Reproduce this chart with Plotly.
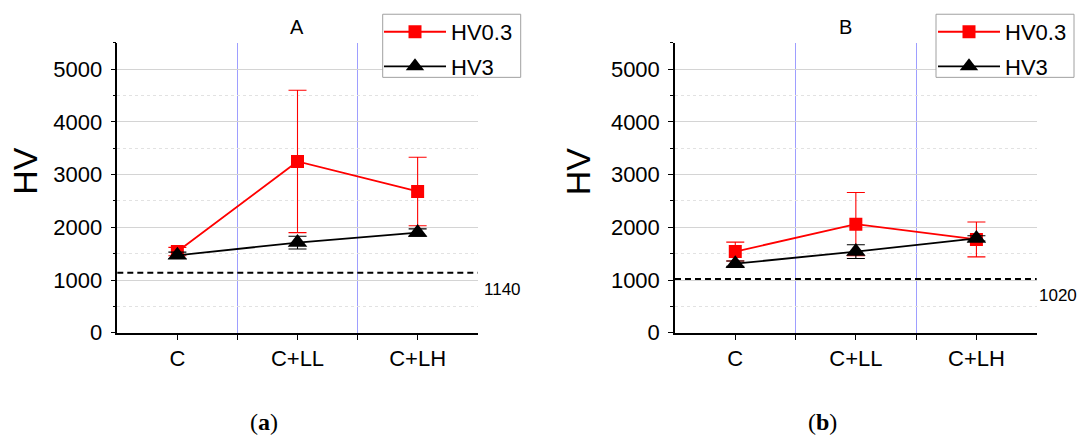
import plotly.graph_objects as go

categories = ["C", "C+LL", "C+LH"]
series_names = ["HV0.3", "HV3"]
a_hv03 = [1540, 3250, 2680]
a_hv03_err = [80, 1350, 650]
a_hv3 = [1470, 1710, 1900]
a_hv3_err = [60, 120, 70]
b_hv03 = [1540, 2060, 1770]
b_hv03_err = [180, 600, 330]
b_hv3 = [1310, 1540, 1790]
b_hv3_err = [50, 130, 50]
thresholds = [1140, 1020]
panel_titles = ["A", "B"]
captions = ["a", "b"]
y_ticks = [0, 1000, 2000, 3000, 4000, 5000]

FONT = "Liberation Sans, Arial, sans-serif"
W, H = 1080, 437          # target picture size (positions are expressed in it)
FIG_H = 448               # layout height
xpos = list(range(len(categories)))


def fy(px):  # paper fraction from a pixel row of the target picture
    return 1 - px / H


def fx(px):
    return px / W


fig = go.Figure()

panels = [
    (a_hv03, a_hv03_err, a_hv3, a_hv3_err, "x", "y", "legend"),
    (b_hv03, b_hv03_err, b_hv3, b_hv3_err, "x2", "y2", "legend2"),
]
for k, (v03, e03, v3, e3, xa, ya, lg) in enumerate(panels):
    fig.add_trace(go.Scatter(
        x=xpos, y=v03, name=series_names[0], mode="lines+markers",
        line=dict(color="#ff0000", width=1.8),
        marker=dict(symbol="square", size=13, color="#ff0000"),
        error_y=dict(type="data", array=e03, color="#ff0000", thickness=1.1, width=9),
        xaxis=xa, yaxis=ya, legend=lg, legendgroup=f"p{k}a"))
    fig.add_trace(go.Scatter(
        x=xpos, y=v3, name=series_names[1], mode="lines+markers",
        line=dict(color="#000000", width=1.8),
        marker=dict(symbol="triangle-up", size=17, color="#000000"),
        error_y=dict(type="data", array=e3, color="#000000", thickness=1.1, width=9),
        xaxis=xa, yaxis=ya, legend=lg, legendgroup=f"p{k}b"))

ydom = [fy(334.3), fy(43)]
xdoms = [[fx(117.3), fx(477.7)], [fx(675), fx(1036.7)]]


def xaxis_cfg(dom):
    return dict(
        domain=dom, range=[-0.5, 2.5], tickmode="array", tickvals=xpos, ticktext=categories,
        showline=True, linecolor="black", linewidth=1.5, ticks="outside", ticklen=5,
        tickcolor="black", tickwidth=1.2, showgrid=False, zeroline=False,
        tickfont=dict(family=FONT, size=22, color="black"), ticklabelstandoff=0,
        minor=dict(tickmode="array", tickvals=[0.5, 1.5], ticks="outside", ticklen=5,
                   tickcolor="black", showgrid=True, gridcolor="#9e9eff", gridwidth=1.3),
        fixedrange=True)


def yaxis_cfg(anchor):
    return dict(
        domain=ydom, range=[0, 5500], tickmode="array", tickvals=y_ticks, anchor=anchor,
        showline=True, linecolor="black", linewidth=1.5, ticks="outside", ticklen=5,
        tickcolor="black", tickwidth=1.2, showgrid=True, gridcolor="#d4d4d4", gridwidth=1,
        zeroline=False, tickfont=dict(family=FONT, size=22, color="black"),
        ticklabelstandoff=4,
        minor=dict(dtick=500, tick0=0, ticks="outside", ticklen=3, tickcolor="black",
                   showgrid=True, gridcolor="#e2e2e2", griddash="dot", gridwidth=1),
        fixedrange=True)


legend_common = dict(
    xanchor="left", yanchor="top", y=fy(11), bgcolor="rgba(0,0,0,0)",
    borderwidth=0, font=dict(family=FONT, size=22, color="black"),
    tracegroupgap=3, itemwidth=62)

fig.update_layout(
    width=W, height=FIG_H, autosize=False, margin=dict(l=0, r=0, t=0, b=0),
    paper_bgcolor="white", plot_bgcolor="white",
    font=dict(family=FONT, color="black"),
    xaxis=xaxis_cfg(xdoms[0]), yaxis=yaxis_cfg("x"),
    xaxis2=dict(xaxis_cfg(xdoms[1]), anchor="y2"), yaxis2=yaxis_cfg("x2"),
    legend=dict(legend_common, x=fx(379)),
    legend2=dict(legend_common, x=fx(933)),
)

# legend frames
legend_boxes = [(382.7, 520.7), (936, 1074)]
for x0, x1 in legend_boxes:
    fig.add_shape(type="rect", xref="paper", yref="paper",
                  x0=fx(x0), x1=fx(x1), y0=fy(77.7), y1=fy(14.3),
                  line=dict(color="#a0a0a0", width=1), fillcolor="white", layer="above")

hv_x = [25.5, 578]
title_x = [296.5, 845]
cap_x = [263.7, 822.7]
xrefs = ["x", "x2"]
yrefs = ["y", "y2"]
for i in range(2):
    fig.add_shape(type="line", xref=f"{xrefs[i]} domain", yref=yrefs[i],
                  x0=0, x1=1, y0=thresholds[i], y1=thresholds[i],
                  line=dict(color="black", width=2, dash="6px,4px"), layer="above")
    fig.add_annotation(xref=f"{xrefs[i]} domain", yref=yrefs[i], x=1, y=thresholds[i],
                       xanchor="left", yanchor="top", xshift=4 if i == 0 else 0,
                       yshift=-5, text=str(thresholds[i]), showarrow=False,
                       font=dict(family=FONT, size=17, color="black"))
    fig.add_annotation(xref="paper", yref="paper", x=fx(hv_x[i]), y=fy(172),
                       text="HV", textangle=-90, showarrow=False,
                       xanchor="center", yanchor="middle",
                       font=dict(family=FONT, size=34, color="black"))
    fig.add_annotation(xref="paper", yref="paper", x=fx(title_x[i]), y=fy(27),
                       text=panel_titles[i], showarrow=False,
                       xanchor="center", yanchor="middle",
                       font=dict(family=FONT, size=20, color="black"))
    fig.add_annotation(xref="paper", yref="paper", x=fx(cap_x[i]), y=fy(424),
                       text=f"(<b>{captions[i]}</b>)", showarrow=False,
                       xanchor="center", yanchor="middle",
                       font=dict(family="Liberation Serif, serif", size=24, color="black"))

fig.write_html("out.html", config=dict(displayModeBar=False))
